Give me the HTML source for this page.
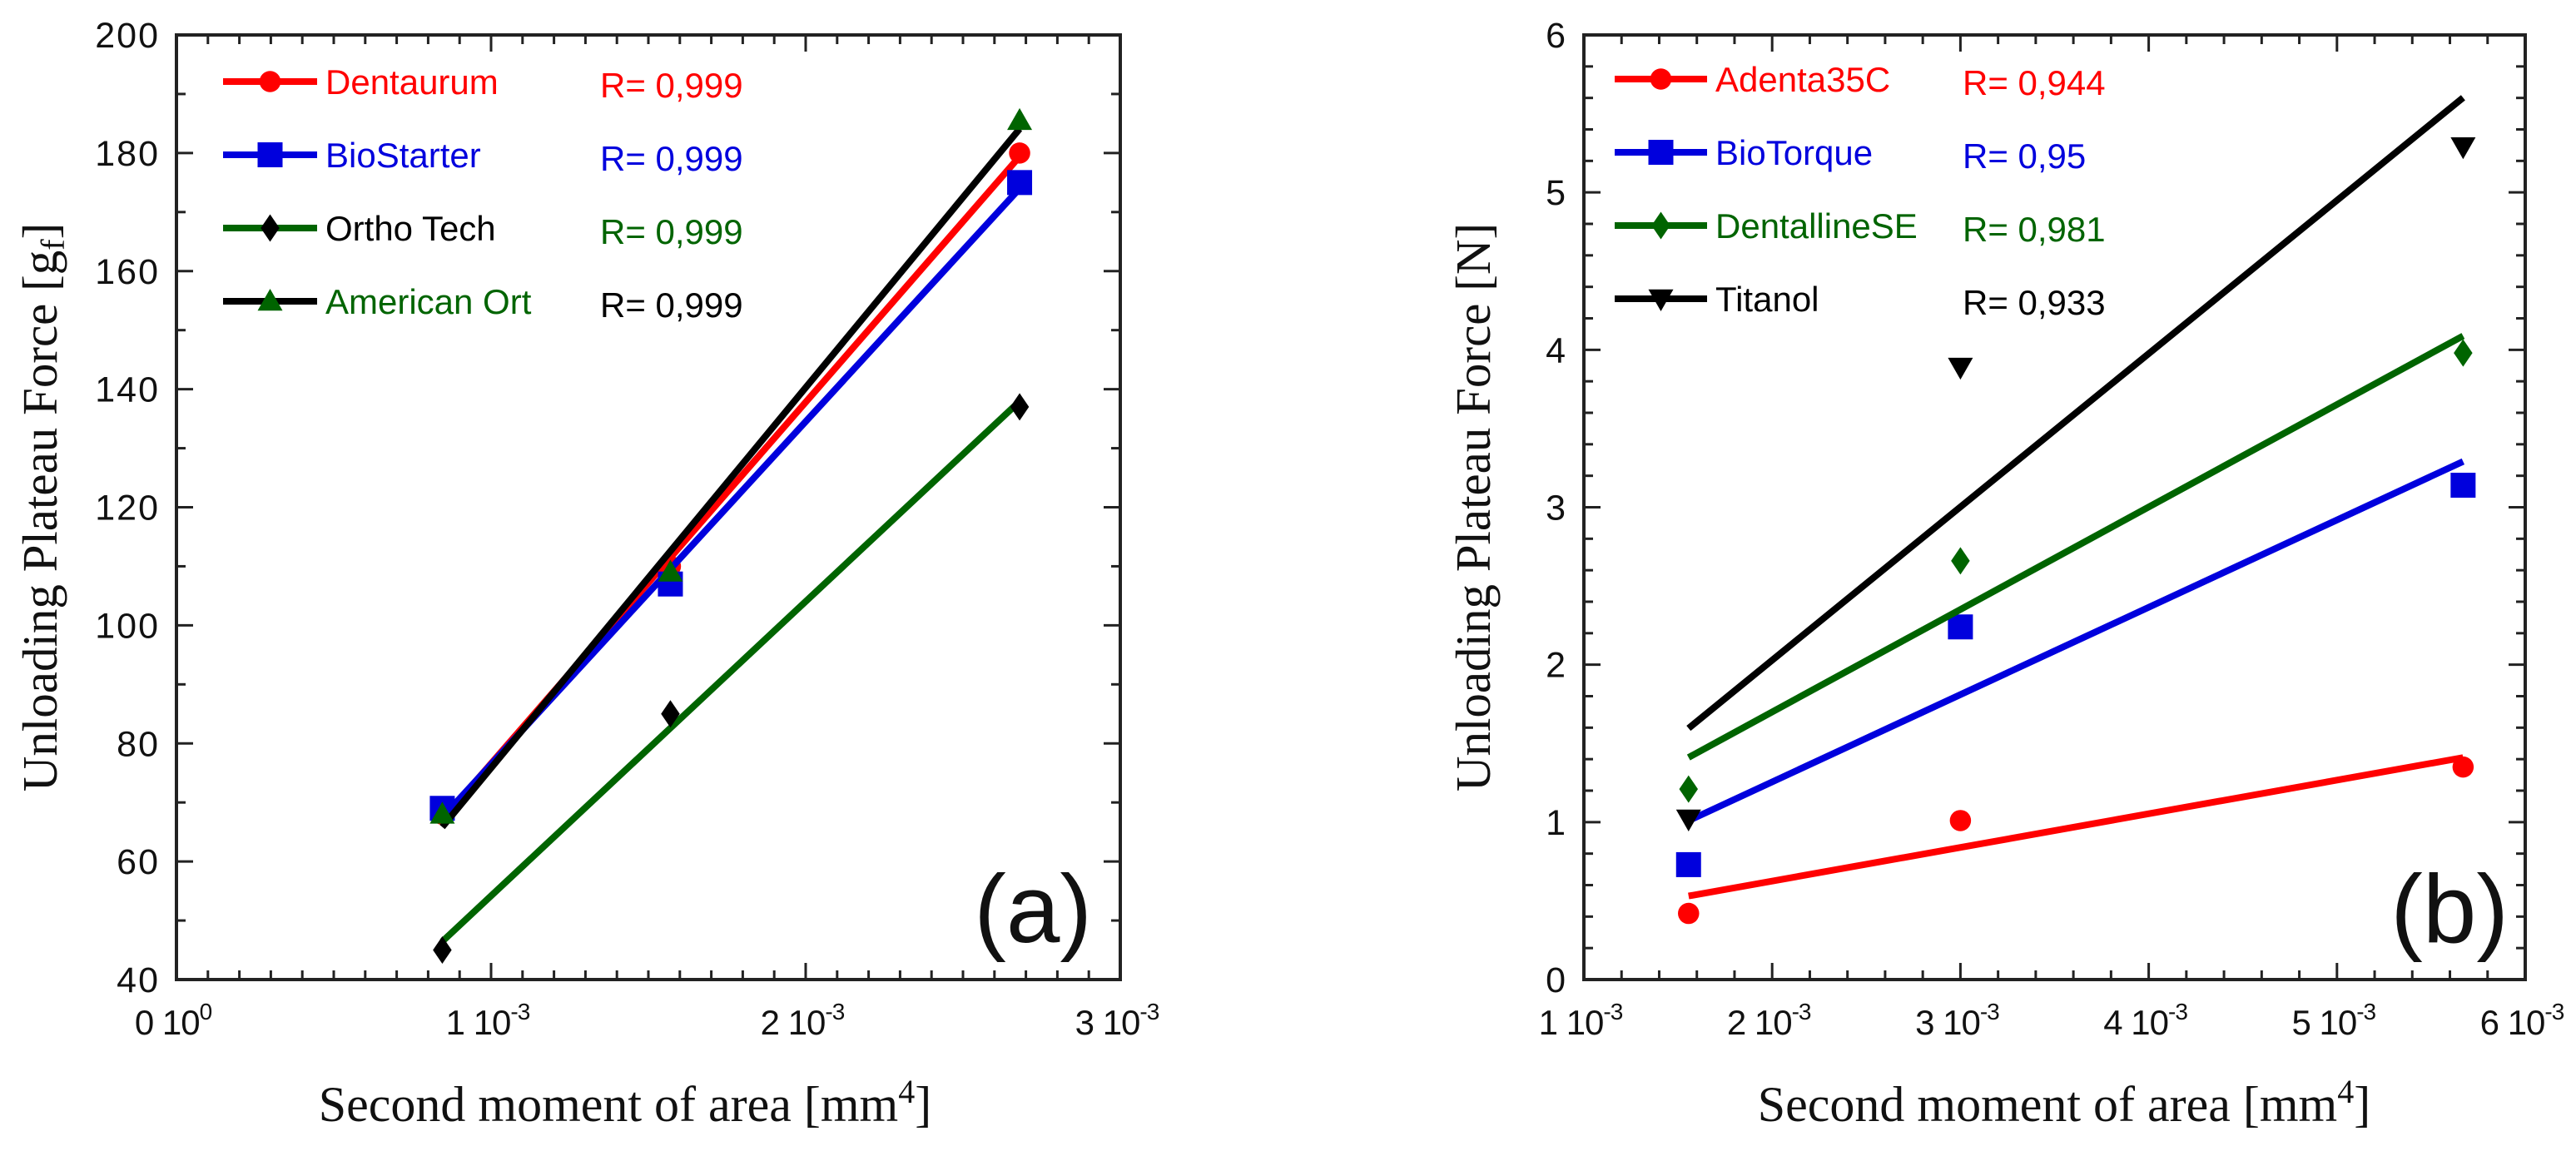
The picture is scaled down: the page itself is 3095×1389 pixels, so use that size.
<!DOCTYPE html>
<html><head><meta charset="utf-8"><style>
html,body{margin:0;padding:0;background:#fff;}
svg{display:block;}
</style></head><body>
<svg id="fig" width="3095" height="1389" viewBox="0 0 3095 1389" xmlns="http://www.w3.org/2000/svg"></svg>
<script>
// ---------- Data panel (a) ----------
const aX = [0.845e-3, 1.57e-3, 2.68e-3];
const aDentaurum = [68, 110, 180];
const aBioStarter = [69, 107, 175];
const aOrthoTech = [45, 85, 137];
const aAmericanOrt = [68, 109, 185.5];
const aNames = ["Dentaurum", "BioStarter", "Ortho Tech", "American Ort"];
const aRvals = ["R= 0,999", "R= 0,999", "R= 0,999", "R= 0,999"];
const aYTicks = [40, 60, 80, 100, 120, 140, 160, 180, 200];
const aXTicks = [0, 1e-3, 2e-3, 3e-3];
const aXTickLabels = [["0 10","0"], ["1 10","-3"], ["2 10","-3"], ["3 10","-3"]];
// ---------- Data panel (b) ----------
const bX = [1.556e-3, 3.0e-3, 5.67e-3];
const bAdenta = [0.42, 1.01, 1.35];
const bBioTorque = [0.73, 2.24, 3.14];
const bDentalline = [1.21, 2.66, 3.98];
const bTitanol = [1.02, 3.89, 5.29];
const bNames = ["Adenta35C", "BioTorque", "DentallineSE", "Titanol"];
const bRvals = ["R= 0,944", "R= 0,95", "R= 0,981", "R= 0,933"];
const bYTicks = [0, 1, 2, 3, 4, 5, 6];
const bXTicks = [1e-3, 2e-3, 3e-3, 4e-3, 5e-3, 6e-3];
const bXTickLabels = [["1 10","-3"], ["2 10","-3"], ["3 10","-3"], ["4 10","-3"], ["5 10","-3"], ["6 10","-3"]];

const NS = "http://www.w3.org/2000/svg";
const svg = document.getElementById('fig');
function mk(tag, attrs, parent){
  const e = document.createElementNS(NS, tag);
  for (const k in attrs) e.setAttribute(k, attrs[k]);
  (parent || svg).appendChild(e);
  return e;
}
function fit(xs, ys){
  const n = xs.length; let mx=0,my=0;
  for(let i=0;i<n;i++){mx+=xs[i];my+=ys[i];} mx/=n; my/=n;
  let sxy=0,sxx=0;
  for(let i=0;i<n;i++){sxy+=(xs[i]-mx)*(ys[i]-my);sxx+=(xs[i]-mx)*(xs[i]-mx);}
  const s=sxy/sxx; return x=>my+s*(x-mx);
}
function marker(g, type, cx, cy, color, size){
  const r = size/2; let e;
  if(type==='circle'){ e = mk('circle',{cx:cx,cy:cy,r:r*0.85,fill:color},g); }
  else if(type==='square'){ e = mk('rect',{x:cx-r,y:cy-r,width:size,height:size,fill:color},g); }
  else if(type==='diamond'){ e = mk('polygon',{points:`${cx},${cy-r*1.1} ${cx+r*0.75},${cy} ${cx},${cy+r*1.1} ${cx-r*0.75},${cy}`,fill:color},g); }
  else if(type==='tri'){ e = mk('polygon',{points:`${cx},${cy-r} ${cx+r},${cy+r*0.75} ${cx-r},${cy+r*0.75}`,fill:color},g); }
  else { e = mk('polygon',{points:`${cx},${cy+r} ${cx+r},${cy-r*0.75} ${cx-r},${cy-r*0.75}`,fill:color},g); }
  return e;
}

function panel(cfg){
  const g = mk('g',{});
  
  
  const {L,R,T,B,xmin,xmax,ymin,ymax} = cfg;
  const sx = v => L + (v-xmin)/(xmax-xmin)*(R-L);
  const sy = v => B - (v-ymin)/(ymax-ymin)*(B-T);
  const fr = mk('rect',{x:L,y:T,width:R-L,height:B-T,fill:'none',stroke:'#222','stroke-width':4},g);
  
  
  const xt = mk('g',{stroke:'#222','stroke-width':3},g);
  
  
  for(let v=xmin; v<=xmax+1e-12; v+=cfg.xminor){
    const major = cfg.xTicks.some(t=>Math.abs(t-v)<1e-9);
    const len = major?20:11; const x=sx(v);
    mk('line',{x1:x,y1:B,x2:x,y2:B-len},xt);
    mk('line',{x1:x,y1:T,x2:x,y2:T+len},xt);
  }
  for(let v=ymin; v<=ymax+1e-9; v+=cfg.yminor){
    const major = cfg.yTicks.some(t=>Math.abs(t-v)<1e-6);
    const len = major?20:11; const y=sy(v);
    mk('line',{x1:L,y1:y,x2:L+len,y2:y},xt);
    mk('line',{x1:R,y1:y,x2:R-len,y2:y},xt);
  }
  cfg.yTicks.forEach(v=>{
    const t = mk('text',{x:L-20,y:sy(v)+15,'text-anchor':'end','font-family':'Liberation Sans, sans-serif','font-size':43,'letter-spacing':'2',fill:'#111'},g);
    t.textContent = v;
    
    
  });
  cfg.xTicks.forEach((v,i)=>{
    const t = mk('text',{x:sx(v)-4,y:B+66,'text-anchor':'middle','font-family':'Liberation Sans, sans-serif','font-size':42,fill:'#111','letter-spacing':'-1'},g);
    
    
    t.textContent = cfg.xTickLabels[i][0];
    const s = mk('tspan',{'font-size':28,dy:-18},t); s.textContent = cfg.xTickLabels[i][1];
  });
  const yt = mk('text',{transform:`translate(${cfg.ytx},${(T+B)/2}) rotate(-90)`,'text-anchor':'middle','font-family':'Liberation Serif, serif','font-size':59,fill:'#111'},g);
  
  
  yt.textContent = 'Unloading Plateau Force [';
  if(cfg.unitSub){
    const a = mk('tspan',{},yt); a.textContent='g';
    const b = mk('tspan',{'font-size':40,dy:9},yt); b.textContent='f';
    const c = mk('tspan',{dy:-9},yt); c.textContent=']';
  } else { const c = mk('tspan',{},yt); c.textContent='N]'; }
  const xtt = mk('text',{x:cfg.xtx,y:1347,'text-anchor':'middle','font-family':'Liberation Serif, serif','font-size':60,fill:'#111'},g);
  
  
  xtt.textContent = 'Second moment of area [mm';
  const sp = mk('tspan',{'font-size':40,dy:-22},xtt); sp.textContent='4';
  const sp2 = mk('tspan',{dy:22},xtt); sp2.textContent=']';
  const pl = mk('text',{x:cfg.plx,y:1132,'text-anchor':'end','font-family':'Liberation Sans, sans-serif','font-size':116,fill:'#111'},g);
  
  
  pl.textContent = cfg.label;
  cfg.series.forEach((s,i)=>{
    const sg = mk('g',{},g);
    
    
    const f = fit(cfg.xs, s.ys);
    const x0 = cfg.xs[0], x1 = cfg.xs[cfg.xs.length-1];
    const ln = mk('line',{x1:sx(x0),y1:sy(f(x0)),x2:sx(x1),y2:sy(f(x1)),stroke:s.line,'stroke-width':8},sg);
    
    
    cfg.xs.forEach((x,j)=>{
      const m = marker(sg, s.marker, sx(x), sy(s.ys[j]), s.mcolor, 30);
      
      
    });
    const lg = mk('g',{},g);
    
    
    const ly = cfg.legY0 + i*cfg.legDy;
    mk('line',{x1:cfg.legL,y1:ly,x2:cfg.legR,y2:ly,stroke:s.line,'stroke-width':8},lg);
    marker(lg, s.marker, (cfg.legL+cfg.legR)/2, ly, s.mcolor, 30);
    const lt = mk('text',{x:cfg.legR+10,y:ly+15,'font-family':'Liberation Sans, sans-serif','font-size':cfg.legFs,fill:s.tcolor},lg);
    lt.textContent = s.name;
    const rt = mk('text',{x:cfg.rx,y:ly+19,'font-family':'Liberation Sans, sans-serif','font-size':cfg.legFs,fill:s.rcolor},lg);
    
    
    rt.textContent = s.r;
  });
}

const RED='#ff0000', BLUE='#0000dd', GREEN='#006400', BLACK='#000';
panel({id:'panel-a',L:212,R:1346,T:42,B:1177,xmin:0,xmax:3e-3,ymin:40,ymax:200,xminor:1e-4,yminor:10,
  xTicks:aXTicks,xTickLabels:aXTickLabels,yTicks:aYTicks,xs:aX,unitSub:true,ytx:68,xtx:751,plx:1312,label:'(a)',
  legY0:98,legDy:88,legL:268,legR:381,legFs:42,rx:721,
  series:[
    {name:aNames[0],ys:aDentaurum,line:RED,mcolor:RED,marker:'circle',tcolor:RED,rcolor:RED,r:aRvals[0]},
    {name:aNames[1],ys:aBioStarter,line:BLUE,mcolor:BLUE,marker:'square',tcolor:BLUE,rcolor:BLUE,r:aRvals[1]},
    {name:aNames[2],ys:aOrthoTech,line:GREEN,mcolor:BLACK,marker:'diamond',tcolor:BLACK,rcolor:GREEN,r:aRvals[2]},
    {name:aNames[3],ys:aAmericanOrt,line:BLACK,mcolor:GREEN,marker:'tri',tcolor:GREEN,rcolor:BLACK,r:aRvals[3]}
  ]});
panel({id:'panel-b',L:1903,R:3034,T:42,B:1177,xmin:1e-3,xmax:6e-3,ymin:0,ymax:6,xminor:2e-4,yminor:0.2,
  xTicks:bXTicks,xTickLabels:bXTickLabels,yTicks:bYTicks,xs:bX,unitSub:false,ytx:1790,xtx:2480,plx:3014,label:'(b)',
  legY0:95,legDy:88,legL:1940,legR:2051,legFs:42,rx:2358,
  series:[
    {name:bNames[0],ys:bAdenta,line:RED,mcolor:RED,marker:'circle',tcolor:RED,rcolor:RED,r:bRvals[0]},
    {name:bNames[1],ys:bBioTorque,line:BLUE,mcolor:BLUE,marker:'square',tcolor:BLUE,rcolor:BLUE,r:bRvals[1]},
    {name:bNames[2],ys:bDentalline,line:GREEN,mcolor:GREEN,marker:'diamond',tcolor:GREEN,rcolor:GREEN,r:bRvals[2]},
    {name:bNames[3],ys:bTitanol,line:BLACK,mcolor:BLACK,marker:'itri',tcolor:BLACK,rcolor:BLACK,r:bRvals[3]}
  ]});
</script>
</body></html>
